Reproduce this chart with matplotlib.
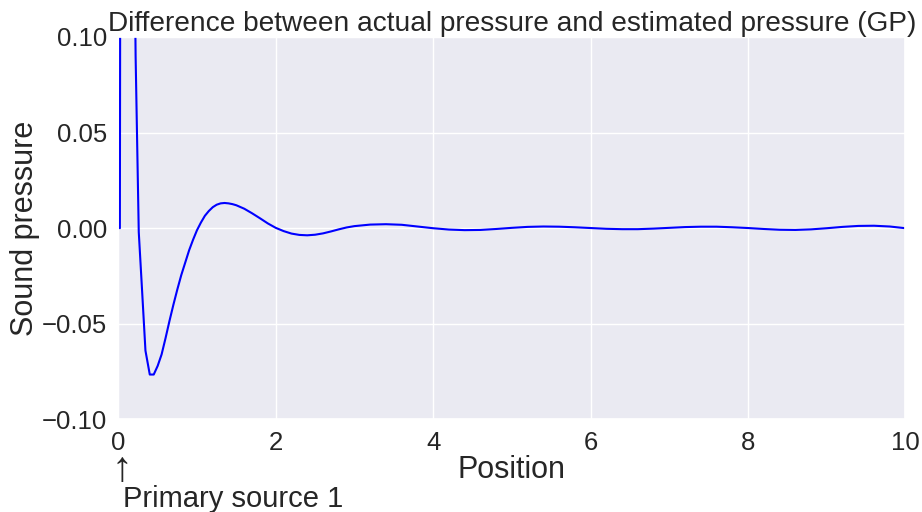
import matplotlib
matplotlib.use("Agg")
import matplotlib.pyplot as plt
import seaborn as sns

# Data
position = [0.02, 0.07, 0.12, 0.17, 0.22, 0.26, 0.30, 0.345, 0.40, 0.45, 0.5, 0.55,
            0.6, 0.65, 0.7, 0.75, 0.8, 0.85, 0.9, 0.95, 1.0, 1.05, 1.1, 1.15, 1.2,
            1.25, 1.3, 1.35, 1.4, 1.45, 1.5, 1.6, 1.7, 1.8, 1.9, 2.0, 2.1, 2.2, 2.3,
            2.4, 2.5, 2.6, 2.7, 2.8, 2.9, 3.0, 3.2, 3.4, 3.6, 3.8, 4.0, 4.2, 4.4,
            4.6, 4.8, 5.0, 5.2, 5.4, 5.6, 5.8, 6.0, 6.2, 6.4, 6.6, 6.8, 7.0, 7.2,
            7.4, 7.6, 7.8, 8.0, 8.2, 8.4, 8.6, 8.8, 9.0, 9.2, 9.4, 9.6, 9.8, 10.0]
pressure_diff = [0.0, 1.5, 0.8, 0.3, 0.09, -0.002, -0.031, -0.064, -0.0765, -0.0765,
                 -0.072, -0.066, -0.0575, -0.0485, -0.040, -0.032, -0.0245, -0.018,
                 -0.0115, -0.006, -0.001, 0.003, 0.0065, 0.009, 0.011, 0.0123, 0.013,
                 0.0132, 0.013, 0.0126, 0.012, 0.0102, 0.0078, 0.0052, 0.0025, 0.0002,
                 -0.0015, -0.0028, -0.0035, -0.0037, -0.0034, -0.0027, -0.0017,
                 -0.0006, 0.0004, 0.0011, 0.0019, 0.0021, 0.0018, 0.0009, 0.0,
                 -0.0007, -0.0010, -0.0009, -0.0004, 0.0002, 0.0007, 0.0009, 0.0008,
                 0.0005, 0.0001, -0.0003, -0.0005, -0.0005, -0.0002, 0.0002, 0.0006,
                 0.0008, 0.0008, 0.0005, 0.0001, -0.0004, -0.0008, -0.0009, -0.0006,
                 0.0, 0.0007, 0.0012, 0.0013, 0.0009, 0.0]
source_arrow = "\u2191"
source_label = "Primary source 1"
source_position = 0.0

sns.set_theme(style="darkgrid")
plt.rcParams["font.family"] = ["Liberation Sans", "DejaVu Sans"]

fig = plt.figure(figsize=(9.22, 5.12), dpi=100)
ax = fig.add_axes([0.1283, 0.1807, 0.8538, 0.7471])
ax.plot(position, pressure_diff, color="blue", linewidth=1.5)
ax.set_xlim(0, 10)
ax.set_ylim(-0.1, 0.1)
ax.set_xticks([0, 2, 4, 6, 8, 10])
ax.set_yticks([-0.10, -0.05, 0.0, 0.05, 0.10])
ax.tick_params(axis="both", labelsize=18.5, pad=2)
ax.set_xlabel("Position", fontsize=22, labelpad=0)
ax.set_ylabel("Sound pressure", fontsize=22, labelpad=1.5)
ax.set_title("Difference between actual pressure and estimated pressure (GP)",
             fontsize=20.2, pad=4)
ax.annotate(source_arrow, xy=(source_position, 0), xycoords=("data", "axes fraction"),
            xytext=(2.7, -44), textcoords="offset points", ha="center",
            va="baseline", fontsize=30, color="#262626")
ax.annotate(source_label, xy=(source_position, 0), xycoords=("data", "axes fraction"),
            xytext=(3.7, -62.8), textcoords="offset points", ha="left",
            va="baseline", fontsize=21, color="#262626")

fig.savefig("out.png", dpi=100)
